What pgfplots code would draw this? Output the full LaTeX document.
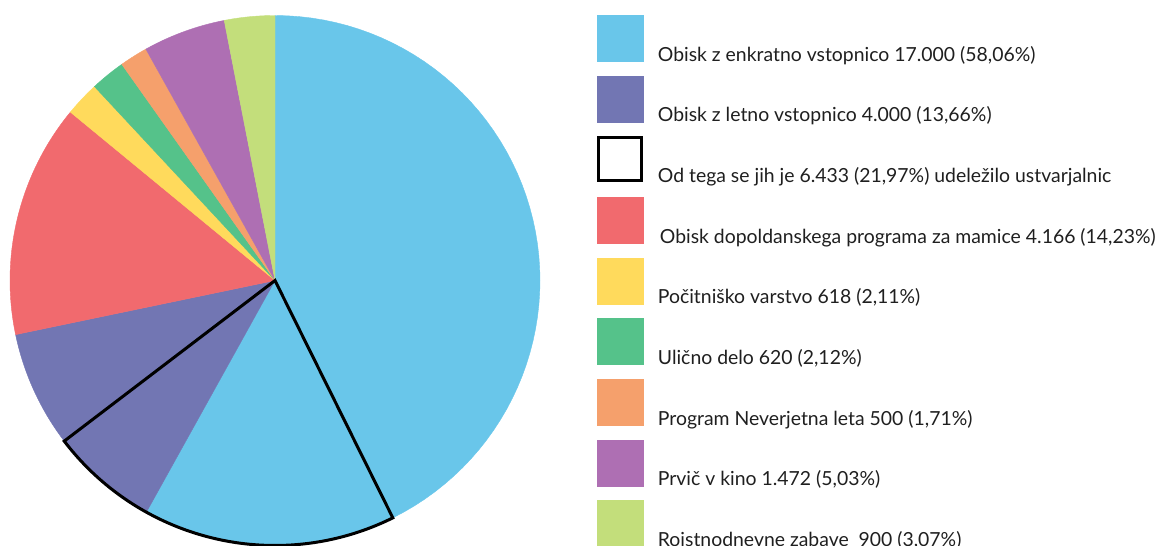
\documentclass[border=0pt]{standalone}
\usepackage{pgfplots}
\pgfplotsset{compat=1.18}
\usepackage{fontspec}
\setmainfont{Lato}
\definecolor{cA}{HTML}{69C6EA}
\definecolor{cB}{HTML}{7276B3}
\definecolor{cC}{HTML}{F16A6E}
\definecolor{cD}{HTML}{FFDA5C}
\definecolor{cE}{HTML}{55C28A}
\definecolor{cF}{HTML}{F5A06C}
\definecolor{cG}{HTML}{AE6FB3}
\definecolor{cH}{HTML}{C3DE7B}
\begin{document}
\begin{tikzpicture}
\useasboundingbox (0,0) rectangle (1165bp,546bp);
\clip (0,0) rectangle (1165bp,546bp);
\begin{axis}[
  at={(0,0)}, anchor=south west,
  scale only axis, width=1165bp, height=546bp,
  xmin=0, xmax=1165, ymin=0, ymax=546, y dir=reverse,
  axis lines=none, clip=false,
  legend image code/.code={\fill[#1] (0bp,0bp) rectangle (46bp,46bp);},
  legend style={
    at={(0.51245,0.97253)}, anchor=north west,
    draw=none, fill=none, inner sep=0pt, outer sep=0pt,
    row sep=11bp, column sep=12.5bp,
    font=\fontsize{19.4bp}{21bp}\selectfont, text=black!88,
    cells={anchor=base west, inner sep=0pt, text depth=5bp},
  },
]
\gdef\cum{0}
\foreach \v/\c in {58.06/cA, 13.66/cB, 14.23/cC, 2.11/cD, 2.12/cE, 1.71/cF, 5.03/cG, 3.07/cH} {
  \pgfmathsetmacro\s{\cum}
  \pgfmathsetmacro\e{\cum+\v/99.99*360}
  \edef\temp{\noexpand\fill[\c, draw=\c, line width=0.4bp] (axis cs:275,280.5) -- plot[domain=\s:\e, samples=80, variable=\noexpand\t] (axis cs:{275+265*sin(\noexpand\t)},{280.5-265*cos(\noexpand\t)}) -- cycle;}
  \temp
  \xdef\cum{\e}
}
% outlined share: 21.97 %
\pgfmathsetmacro\os{153.6}
\pgfmathsetmacro\oe{153.6+21.97*3.6}
\edef\temp{\noexpand\draw[black, line width=3bp] (axis cs:275,280.5) -- plot[domain=\os:\oe, samples=80, variable=\noexpand\t] (axis cs:{275+265*sin(\noexpand\t)},{280.5-265*cos(\noexpand\t)}) -- cycle;}
\temp

\addlegendimage{cA}\addlegendentry{Obisk z enkratno vstopnico 17.000 (58,06\%)}
\addlegendimage{cB}\addlegendentry{Obisk z letno vstopnico 4.000 (13,66\%)}
\addlegendimage{legend image code/.code={\draw[black, line width=3bp] (1.5bp,1.5bp) rectangle (44.5bp,44.5bp);}}
\addlegendentry{Od tega se jih je 6.433 (21,97\%) udeležilo ustvarjalnic}
\addlegendimage{cC}\addlegendentry{\hspace{2bp}Obisk dopoldanskega programa za mamice 4.166 (14,23\%)}
\addlegendimage{cD}\addlegendentry{Počitniško varstvo 618 (2,11\%)}
\addlegendimage{cE}\addlegendentry{Ulično delo 620 (2,12\%)}
\addlegendimage{cF}\addlegendentry{Program Neverjetna leta 500 (1,71\%)}
\addlegendimage{cG}\addlegendentry{Prvič v kino 1.472 (5,03\%)}
\addlegendimage{cH}\addlegendentry{Rojstnodnevne zabave~ 900 (3,07\%)}
\end{axis}
\end{tikzpicture}
\end{document}
